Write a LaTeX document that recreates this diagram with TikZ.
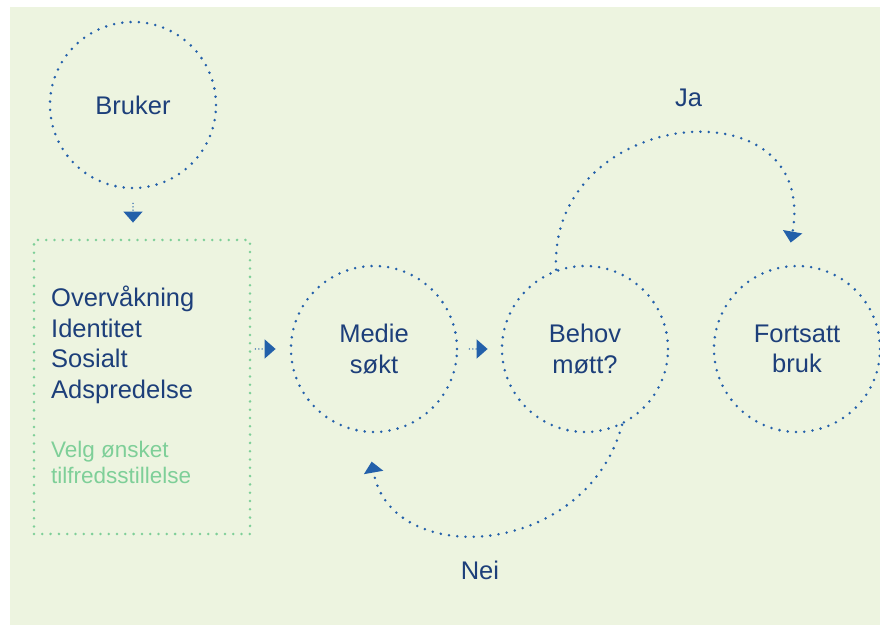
\documentclass[tikz,border=0pt]{standalone}
\usepackage{fontspec}
\setmainfont{Liberation Sans}
\usetikzlibrary{arrows.meta,positioning}
\definecolor{bakgrunn}{HTML}{EDF4E0}
\definecolor{prikkblaa}{HTML}{2360AA}
\definecolor{tekstblaa}{HTML}{1D3F7A}
\definecolor{prikkgronn}{HTML}{7ECF98}

\begin{document}
\begin{tikzpicture}[x=1pt, y=1pt, >={Triangle[length=11pt,width=19pt]},
    font=\fontsize{25.5}{30.5}\selectfont, text=tekstblaa,
    prikk/.style={line width=2.8pt, line cap=round, dash pattern=on 0pt off 8.3pt},
    sirkel/.style={circle, draw=prikkblaa, prikk, minimum size=166pt, inner sep=0pt, align=center},
    pil/.style={->, draw=prikkblaa, line width=1.5pt, line cap=round, dash pattern=on 0pt off 3.4pt},
    kurve/.style={->, draw=prikkblaa, prikk}]
  \useasboundingbox (0,0) rectangle (880,626);
  \fill[bakgrunn] (10,1) rectangle (880,619);

  % noder
  \node[sirkel] (bruker) at (133,521) {Bruker};
  \node[draw=prikkgronn, prikk, minimum width=216pt, minimum height=294pt, inner sep=0pt] (valg) at (142,239) {};
  \node[anchor=north west, align=left, inner sep=0pt] (motiv) at (51,340) {Overvåkning\\Identitet\\Sosialt\\Adspredelse};
  \node[anchor=north west, align=left, inner sep=0pt, text=prikkgronn, font=\fontsize{22.5}{26}\selectfont] (velg) at (51,185) {Velg ønsket\\tilfredsstillelse};
  \node[sirkel] (medie) at (374,277) {Medie\\søkt};
  \node[sirkel] (behov) at (585,277) {Behov\\møtt?};
  \node[sirkel] (fortsatt) at (797,277) {Fortsatt\\bruk};

  % piler
  \draw[pil, shorten <=14pt, shorten >=16pt] (bruker.south) -- (bruker.south |- valg.north);
  \draw[pil, shorten <=4pt, shorten >=14pt] (valg.east |- medie.west) -- (medie.west);
  \draw[pil, shorten <=11pt, shorten >=13pt] (medie.east) -- (behov.west);
  \draw[kurve, shorten >=23pt] (behov.110) to[out=93, in=80, out distance=163pt, in distance=188pt]
    node[midway, above=25pt, xshift=8pt] (ja) {Ja} (fortsatt.97);
  \draw[kurve, shorten >=29pt] (behov.-64) to[out=-105, in=-80, distance=139pt]
    node[midway, below=26pt, xshift=-10pt] (nei) {Nei} (medie.-95);
\end{tikzpicture}
\end{document}
